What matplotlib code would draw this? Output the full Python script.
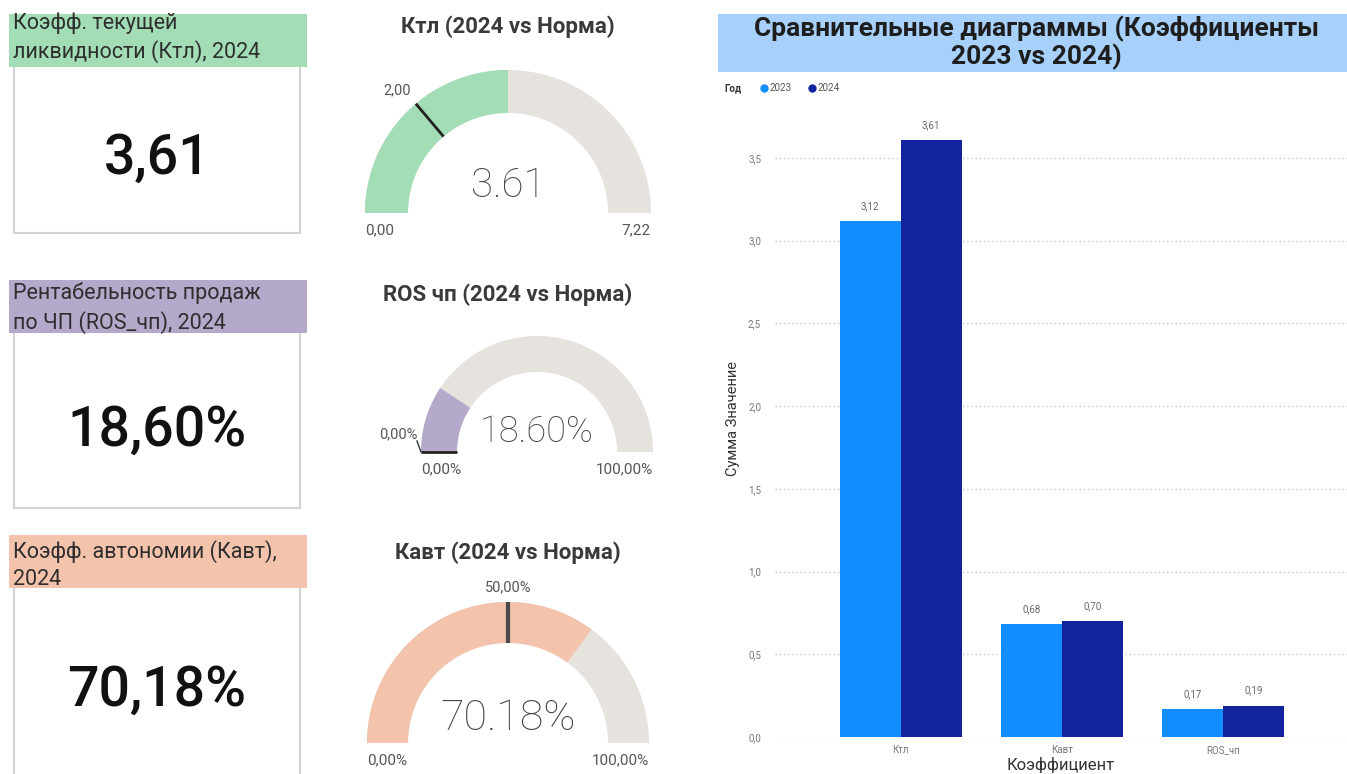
import numpy as np
import matplotlib
matplotlib.use("Agg")
import matplotlib.pyplot as plt
from matplotlib.patches import Polygon, Rectangle

plt.rcParams['font.family'] = ['Roboto', 'DejaVu Sans']

# карточки слева
card_titles = ["Коэфф. текущей\nликвидности (Ктл), 2024",
               "Рентабельность продаж\nпо ЧП (ROS_чп), 2024",
               "Коэфф. автономии (Кавт),\n2024"]
card_values = ["3,61", "18,60%", "70,18%"]
card_colors = ["#A3DDB6", "#B4A8CB", "#F3C3AC"]

# датчики (gauge)
gauge_titles = ["Ктл (2024 vs Норма)", "ROS чп (2024 vs Норма)", "Кавт (2024 vs Норма)"]
gauge_values = [3.61, 18.60, 70.18]
gauge_min = [0.0, 0.0, 0.0]
gauge_max = [7.22, 100.0, 100.0]
gauge_target = [2.00, 0.00, 50.00]
gauge_pct = [False, True, True]
gauge_colors = ["#A3DDB6", "#B4A8CB", "#F3C3AC"]

# столбчатая диаграмма
categories = ["Ктл", "Кавт", "ROS_чп"]
years = ["2023", "2024"]
vals_2023 = [3.12, 0.68, 0.17]
vals_2024 = [3.61, 0.70, 0.19]
year_colors = ["#118DFF", "#12239E"]

W, H = 1347, 774
fig = plt.figure(figsize=(W / 100, H / 100), dpi=100)
fig.patch.set_facecolor("white")

# вся фигура в пиксельных координатах
ax = fig.add_axes([0, 0, 1, 1])
ax.set_xlim(0, W)
ax.set_ylim(H, 0)
ax.axis("off")


def fmt(v, pct, sep=","):
    s = f"{v:.2f}".replace(".", sep)
    return s + ("%" if pct else "")


# --- карточки ---
card_tops = [14, 280, 535]
card_bottoms = [233, 508, 800]
title_y = [38, 308, 565]
value_y = [158, 430, 690]
for i in range(3):
    top = card_tops[i]
    ax.add_patch(Rectangle((14, top + 52), 286, card_bottoms[i] - top - 52,
                           facecolor="white", edgecolor="#D2D2D2", lw=1.5))
    ax.add_patch(Rectangle((9, top), 298, 53, facecolor=card_colors[i], edgecolor="none"))
    ax.text(13, title_y[i], card_titles[i], ha="left", va="center", fontsize=15.5,
            color="#2E2E2E", linespacing=1.35)
    ax.text(157, value_y[i], card_values[i], ha="center", va="center", fontsize=40,
            fontweight="medium", color="#111111")


# --- датчики ---
def arc(cx, cy, r_in, r_out, a1, a2, **kw):
    t = np.radians(np.linspace(a1, a2, 100))
    xs = np.concatenate([cx + r_out * np.cos(t), cx + r_in * np.cos(t[::-1])])
    ys = np.concatenate([cy - r_out * np.sin(t), cy - r_in * np.sin(t[::-1])])
    ax.add_patch(Polygon(np.column_stack([xs, ys]), closed=True, lw=0, **kw))


gauge_geo = [(508, 213, 100, 143, 27, 186, 29),
             (537, 452, 80, 116, 295, 432, 26),
             (508, 743, 100, 141, 553, 719, 31)]
for i in range(3):
    cx, cy, r_in, r_out, ty, vy, vfs = gauge_geo[i]
    lo, hi = gauge_min[i], gauge_max[i]
    frac = (gauge_values[i] - lo) / (hi - lo)
    a_val = 180 - frac * 180
    arc(cx, cy, r_in, r_out, 0, 180, facecolor="#E6E2DD")
    arc(cx, cy, r_in, r_out, a_val, 180, facecolor=gauge_colors[i])
    ax.text(508, ty, gauge_titles[i], ha="center", va="center", fontsize=16,
            fontweight="bold", color="#3A3A3A")
    ax.text(cx, vy, fmt(gauge_values[i], gauge_pct[i], "."), ha="center", va="center",
            fontsize=vfs, fontweight="light", color="#444444")
    ax.text(cx - r_out, cy + 17, fmt(lo, gauge_pct[i]), ha="left", va="center",
            fontsize=11, color="#555555")
    ax.text(cx + r_out, cy + 17, fmt(hi, gauge_pct[i]), ha="right", va="center",
            fontsize=11, color="#555555")
    # целевое значение
    ft = (gauge_target[i] - lo) / (hi - lo)
    a_t = np.radians(180 - ft * 180)
    c, s = np.cos(a_t), np.sin(a_t)
    lw = 3 if i == 2 else 2
    col = "#4A4A4A" if i == 2 else "#222222"
    ax.plot([cx + r_in * c, cx + r_out * c], [cy - r_in * s, cy - r_out * s],
            color=col, lw=lw, solid_capstyle="butt")
    lab = fmt(gauge_target[i], gauge_pct[i])
    if c < -0.95:
        lx, ly = cx - r_out - 4, cy - 11
        ax.plot([lx, cx - r_out], [ly, cy], color="#333333", lw=1)
        ax.text(lx, ly, lab, ha="right", va="bottom", fontsize=10.5, color="#555555")
    else:
        lx, ly = cx + (r_out + 8) * c, cy - (r_out + 8) * s
        ha = "center" if abs(c) < 0.1 else ("right" if c < 0 else "left")
        ax.text(lx, ly, lab, ha=ha, va="bottom", fontsize=10.5, color="#555555")

# --- заголовок и легенда столбчатой диаграммы ---
ax.add_patch(Rectangle((718, 14), 629, 58, facecolor="#A7D1FB", edgecolor="none"))
ax.text(1036, 43, "Сравнительные диаграммы (Коэффициенты\n2023 vs 2024)", ha="center",
        va="center", fontsize=19, fontweight="bold", color="#1E1E1E", linespacing=1.08)
ax.text(724, 88, "Год", ha="left", va="center", fontsize=7, fontweight="bold", color="#333333")
lx = 764
for yr, col in zip(years, year_colors):
    ax.plot(lx, 88, "o", color=col, ms=5)
    ax.text(lx + 5, 88, yr, ha="left", va="center", fontsize=7, color="#555555")
    lx += 48

# --- столбчатая диаграмма ---
y0, y_top, ymax = 737, 100, 3.85
bx = fig.add_axes([775 / W, (H - y0) / H, (W - 775) / W, (y0 - y_top) / H])
bx.patch.set_alpha(0)
x = np.arange(len(categories))
bw = 0.379
b1 = bx.bar(x - bw / 2, vals_2023, bw, color=year_colors[0], zorder=3)
b2 = bx.bar(x + bw / 2, vals_2024, bw, color=year_colors[1], zorder=3)
for bars in (b1, b2):
    for r in bars:
        h = r.get_height()
        bx.text(r.get_x() + r.get_width() / 2, h + 0.06, f"{h:.2f}".replace(".", ","),
                ha="center", va="bottom", fontsize=7, color="#666666")
bx.set_xlim(-0.78, 2.77)
bx.set_ylim(0, ymax)
yt = np.arange(0, 3.6, 0.5)
bx.set_yticks(yt)
bx.set_yticklabels([f"{v:.1f}".replace(".", ",") for v in yt])
bx.set_xticks(x)
bx.set_xticklabels(categories)
bx.tick_params(axis="both", length=0, labelsize=7, colors="#777777")
bx.tick_params(axis="y", pad=10)
bx.tick_params(axis="x", pad=6)
bx.yaxis.grid(True, linestyle=(0, (1, 2)), color="#C8C8C8", lw=1, zorder=0)
for sp in bx.spines.values():
    sp.set_visible(False)
bx.set_ylabel("Сумма Значение", fontsize=10.5, color="#333333", labelpad=6)
bx.set_xlabel("Коэффициент", fontsize=12, color="#333333", labelpad=1)

fig.savefig("out.png", dpi=100, facecolor="white")
